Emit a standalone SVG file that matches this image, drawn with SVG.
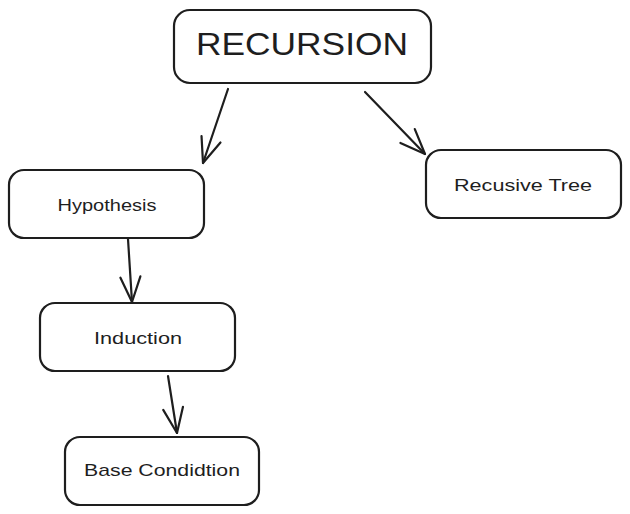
<svg xmlns="http://www.w3.org/2000/svg" width="630" height="514" viewBox="0 0 630 514">
<style>
.box{fill:#ffffff;stroke:#1e1e1e;stroke-width:2.2;stroke-linejoin:round}
.lbl{font-family:"Liberation Sans","Noto Sans",sans-serif;fill:#1e1e1e;text-anchor:middle;dominant-baseline:central}
.edge{fill:none;stroke:#1e1e1e;stroke-width:2.2;stroke-linecap:round}
</style>
<defs>
<marker id="ah" viewBox="0 0 30 30" refX="28" refY="15" markerWidth="30" markerHeight="30" markerUnits="userSpaceOnUse" orient="auto">
<path d="M3,5 L28,15 L3,25" fill="none" stroke="#1e1e1e" stroke-width="2.2" stroke-linecap="round" stroke-linejoin="round"/>
</marker>
</defs>
<rect width="630" height="514" fill="#ffffff"/>
<g id="recursion">
<rect class="box" x="174" y="10" width="257" height="73" rx="16"/>
<text class="lbl" x="302" y="44" font-size="32" textLength="212" lengthAdjust="spacingAndGlyphs">RECURSION</text>
</g>
<g id="hypothesis">
<rect class="box" x="9" y="170" width="195" height="68" rx="15"/>
<text class="lbl" x="107" y="205" font-size="17" textLength="99" lengthAdjust="spacingAndGlyphs">Hypothesis</text>
</g>
<g id="recusive-tree">
<rect class="box" x="426" y="150" width="195" height="68" rx="15"/>
<text class="lbl" x="523" y="185" font-size="17" textLength="138" lengthAdjust="spacingAndGlyphs">Recusive Tree</text>
</g>
<g id="induction">
<rect class="box" x="40" y="303" width="195" height="68" rx="15"/>
<text class="lbl" x="138" y="338" font-size="17" textLength="88" lengthAdjust="spacingAndGlyphs">Induction</text>
</g>
<g id="base-condition">
<rect class="box" x="65" y="437" width="194" height="68" rx="15"/>
<text class="lbl" x="162" y="470" font-size="17" textLength="156" lengthAdjust="spacingAndGlyphs">Base Condidtion</text>
</g>
<g id="connectors">
<path class="edge" d="M228,89 L203,163" marker-end="url(#ah)"/>
<path class="edge" d="M365,92 L425,154" marker-end="url(#ah)"/>
<path class="edge" d="M128,239 L132,302" marker-end="url(#ah)"/>
<path class="edge" d="M168,376 L177,433" marker-end="url(#ah)"/>
</g>
</svg>
